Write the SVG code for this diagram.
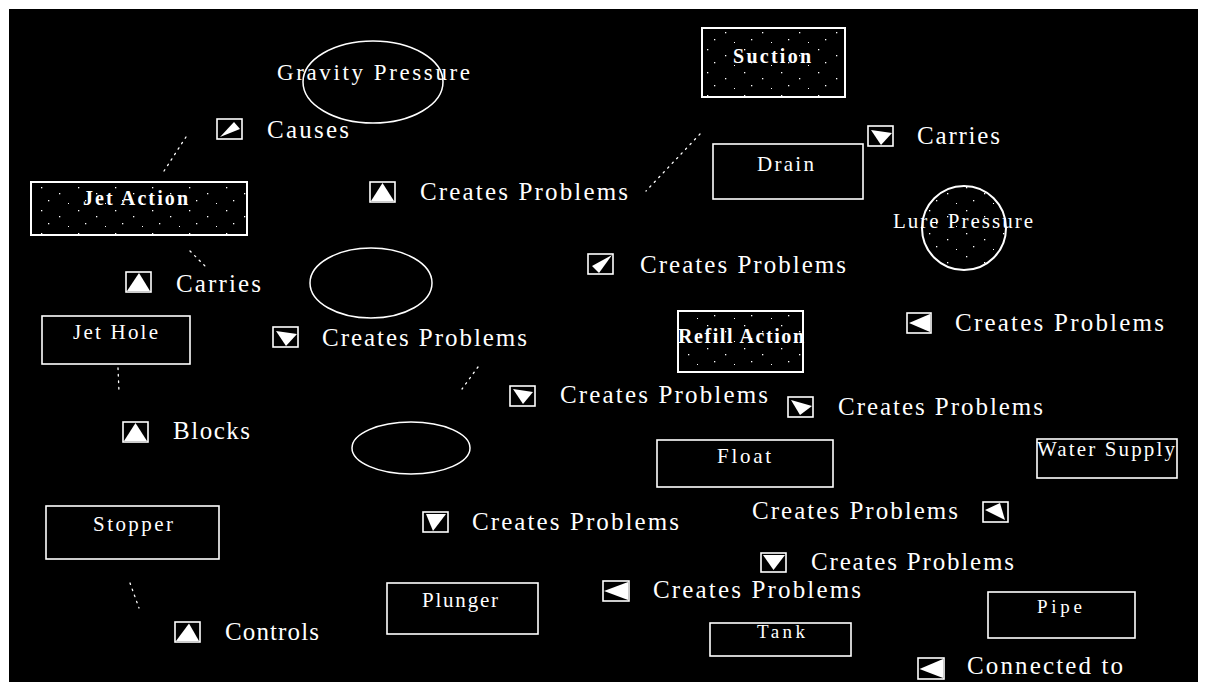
<svg xmlns="http://www.w3.org/2000/svg" width="1205" height="682" viewBox="0 0 1205 682">
<style>
.box{fill:#000;stroke:#fff;stroke-width:1.6}
.spk{fill:url(#speck);stroke:#fff;stroke-width:2}
.ell{fill:none;stroke:#fff;stroke-width:1.5}
.nl{font-family:"Liberation Serif","Times New Roman",serif;font-size:21px;fill:#fff}
.nb{font-family:"Liberation Serif","Times New Roman",serif;font-size:20px;font-weight:bold;fill:#fff}
.ll{font-family:"Liberation Serif","Times New Roman",serif;font-size:25px;fill:#fff}
.ib{fill:#000;stroke:#fff;stroke-width:1.6}
.tri{fill:#fff}
.con{fill:none;stroke:#fff;stroke-width:1.3;stroke-dasharray:1.5 5;stroke-linecap:round}
</style>
<defs>
<pattern id="speck" width="37" height="23" patternUnits="userSpaceOnUse">
<rect width="37" height="23" fill="#000"/>
<rect x="4" y="3" width="1.3" height="1.3" fill="#fff"/>
<rect x="22" y="9" width="1.3" height="1.3" fill="#fff"/>
<rect x="11" y="16" width="1.3" height="1.3" fill="#fff"/>
<rect x="31" y="19" width="1" height="1" fill="#fff"/>
</pattern>
</defs>
<rect width="1205" height="682" fill="#fff"/>
<rect x="9" y="9" width="1189" height="673" fill="#000"/>

<g id="connectors">
<line class="con" x1="186" y1="137" x2="164" y2="171"/>
<line class="con" x1="700" y1="134" x2="646" y2="191"/>
<line class="con" x1="118" y1="368" x2="119" y2="392"/>
<line class="con" x1="130" y1="583" x2="139" y2="608"/>
<line class="con" x1="478" y1="367" x2="462" y2="389"/>
<line class="con" x1="190" y1="251" x2="205" y2="266"/>
</g>

<g id="gravity-pressure">
<ellipse class="ell" cx="373" cy="82" rx="70" ry="41"/>
<text class="nl" x="277" y="80" style="font-size:23px" textLength="193" lengthAdjust="spacing">Gravity Pressure</text>
</g>
<g id="suction">
<rect class="spk" x="702" y="28" width="143" height="69"/>
<text class="nb" x="733" y="63" textLength="78" lengthAdjust="spacing">Suction</text>
</g>
<g id="drain">
<rect class="box" x="713" y="144" width="150" height="55"/>
<text class="nl" x="757" y="171" textLength="57" lengthAdjust="spacing">Drain</text>
</g>
<g id="lure-pressure">
<circle class="spk" cx="964" cy="228" r="42"/>
<text class="nl" x="893" y="228" textLength="140" lengthAdjust="spacing">Lure Pressure</text>
</g>
<g id="jet-action">
<rect class="spk" x="31" y="182" width="216" height="53"/>
<text class="nb" x="83" y="205" textLength="105" lengthAdjust="spacing">Jet Action</text>
</g>
<g id="jet-hole">
<rect class="box" x="42" y="316" width="148" height="48"/>
<text class="nl" x="73" y="339" textLength="85" lengthAdjust="spacing">Jet Hole</text>
</g>
<g id="ellipse-a">
<ellipse class="ell" cx="371" cy="283" rx="61" ry="35"/>
</g>
<g id="ellipse-b">
<ellipse class="ell" cx="411" cy="448" rx="59" ry="26"/>
</g>
<g id="refill-action">
<rect class="spk" x="678" y="311" width="125" height="61"/>
<text class="nb" x="678" y="343" textLength="126" lengthAdjust="spacing">Refill Action</text>
</g>
<g id="float">
<rect class="box" x="657" y="440" width="176" height="47"/>
<text class="nl" x="717" y="463" textLength="54" lengthAdjust="spacing">Float</text>
</g>
<g id="water-supply">
<rect class="box" x="1037" y="439" width="140" height="39"/>
<text class="nl" x="1037" y="456" textLength="138" lengthAdjust="spacing">Water Supply</text>
</g>
<g id="stopper">
<rect class="box" x="46" y="506" width="173" height="53"/>
<text class="nl" x="93" y="531" textLength="80" lengthAdjust="spacing">Stopper</text>
</g>
<g id="plunger">
<rect class="box" x="387" y="583" width="151" height="51"/>
<text class="nl" x="422" y="607" textLength="76" lengthAdjust="spacing">Plunger</text>
</g>
<g id="tank">
<rect class="box" x="710" y="623" width="141" height="33"/>
<text class="nl" x="757" y="638" style="font-size:19px" textLength="48" lengthAdjust="spacing">Tank</text>
</g>
<g id="pipe">
<rect class="box" x="988" y="592" width="147" height="46"/>
<text class="nl" x="1037" y="613" style="font-size:19px" textLength="45" lengthAdjust="spacing">Pipe</text>
</g>

<g id="lbl-causes">
<rect class="ib" x="217" y="119" width="25" height="20"/>
<polygon class="tri" transform="translate(217 119)" points="3,18 17,3 23,10"/>
<text class="ll" x="267" y="138" textLength="82" lengthAdjust="spacing">Causes</text>
</g>
<g id="lbl-cp1">
<rect class="ib" x="370" y="182" width="25" height="20"/>
<polygon class="tri" transform="translate(370 182)" points="12.5,1 24,19 1,19"/>
<text class="ll" x="420" y="200" textLength="208" lengthAdjust="spacing">Creates Problems</text>
</g>
<g id="lbl-carries-1">
<rect class="ib" x="868" y="126" width="25" height="20"/>
<polygon class="tri" transform="translate(868 126)" points="3,4 24,7 13,19"/>
<text class="ll" x="917" y="144" textLength="83" lengthAdjust="spacing">Carries</text>
</g>
<g id="lbl-cp2">
<rect class="ib" x="588" y="254" width="25" height="20"/>
<polygon class="tri" transform="translate(588 254)" points="24,1 4,12 11,19"/>
<text class="ll" x="640" y="273" textLength="206" lengthAdjust="spacing">Creates Problems</text>
</g>
<g id="lbl-carries-2">
<rect class="ib" x="126" y="272" width="25" height="20"/>
<polygon class="tri" transform="translate(126 272)" points="13,1 24,19 1,19"/>
<text class="ll" x="176" y="292" textLength="85" lengthAdjust="spacing">Carries</text>
</g>
<g id="lbl-cp3">
<rect class="ib" x="273" y="327" width="25" height="20"/>
<polygon class="tri" transform="translate(273 327)" points="3,4 24,7 13,19"/>
<text class="ll" x="322" y="346" textLength="205" lengthAdjust="spacing">Creates Problems</text>
</g>
<g id="lbl-cp4">
<rect class="ib" x="907" y="313" width="24" height="20"/>
<polygon class="tri" transform="translate(907 313)" points="2,10 23,1 23,19"/>
<text class="ll" x="955" y="331" textLength="209" lengthAdjust="spacing">Creates Problems</text>
</g>
<g id="lbl-cp5">
<rect class="ib" x="510" y="386" width="25" height="20"/>
<polygon class="tri" transform="translate(510 386)" points="3,3 23,6 13,18"/>
<text class="ll" x="560" y="403" textLength="208" lengthAdjust="spacing">Creates Problems</text>
</g>
<g id="lbl-cp6">
<rect class="ib" x="788" y="397" width="25" height="20"/>
<polygon class="tri" transform="translate(788 397)" points="3,3 24,9 12,18"/>
<text class="ll" x="838" y="415" textLength="205" lengthAdjust="spacing">Creates Problems</text>
</g>
<g id="lbl-blocks">
<rect class="ib" x="123" y="422" width="25" height="20"/>
<polygon class="tri" transform="translate(123 422)" points="12.5,1 24,19 1,19"/>
<text class="ll" x="173" y="439" textLength="77" lengthAdjust="spacing">Blocks</text>
</g>
<g id="lbl-cp7">
<rect class="ib" x="423" y="512" width="25" height="20"/>
<polygon class="tri" transform="translate(423 512)" points="3,2 23,2 10,19"/>
<text class="ll" x="472" y="530" textLength="207" lengthAdjust="spacing">Creates Problems</text>
</g>
<g id="lbl-cp8">
<rect class="ib" x="983" y="502" width="25" height="20"/>
<polygon class="tri" transform="translate(983 502)" points="17,1 2,8 22,18"/>
<text class="ll" x="752" y="519" textLength="206" lengthAdjust="spacing">Creates Problems</text>
</g>
<g id="lbl-cp9">
<rect class="ib" x="761" y="553" width="25" height="19"/>
<polygon class="tri" transform="translate(761 553)" points="2,2 24,2 12.5,17"/>
<text class="ll" x="811" y="570" textLength="203" lengthAdjust="spacing">Creates Problems</text>
</g>
<g id="lbl-cp10">
<rect class="ib" x="603" y="581" width="26" height="20"/>
<polygon class="tri" transform="translate(603 581)" points="1,10 25,1 25,19"/>
<text class="ll" x="653" y="598" textLength="208" lengthAdjust="spacing">Creates Problems</text>
</g>
<g id="lbl-controls">
<rect class="ib" x="175" y="622" width="25" height="20"/>
<polygon class="tri" transform="translate(175 622)" points="14,1.5 24,19 1,19"/>
<text class="ll" x="225" y="640" textLength="94" lengthAdjust="spacing">Controls</text>
</g>
<g id="lbl-connected">
<rect class="ib" x="918" y="658" width="26" height="21"/>
<polygon class="tri" transform="translate(918 658)" points="1.5,11 25,1 25,20"/>
<text class="ll" x="967" y="674" textLength="156" lengthAdjust="spacing">Connected to</text>
</g>
</svg>
